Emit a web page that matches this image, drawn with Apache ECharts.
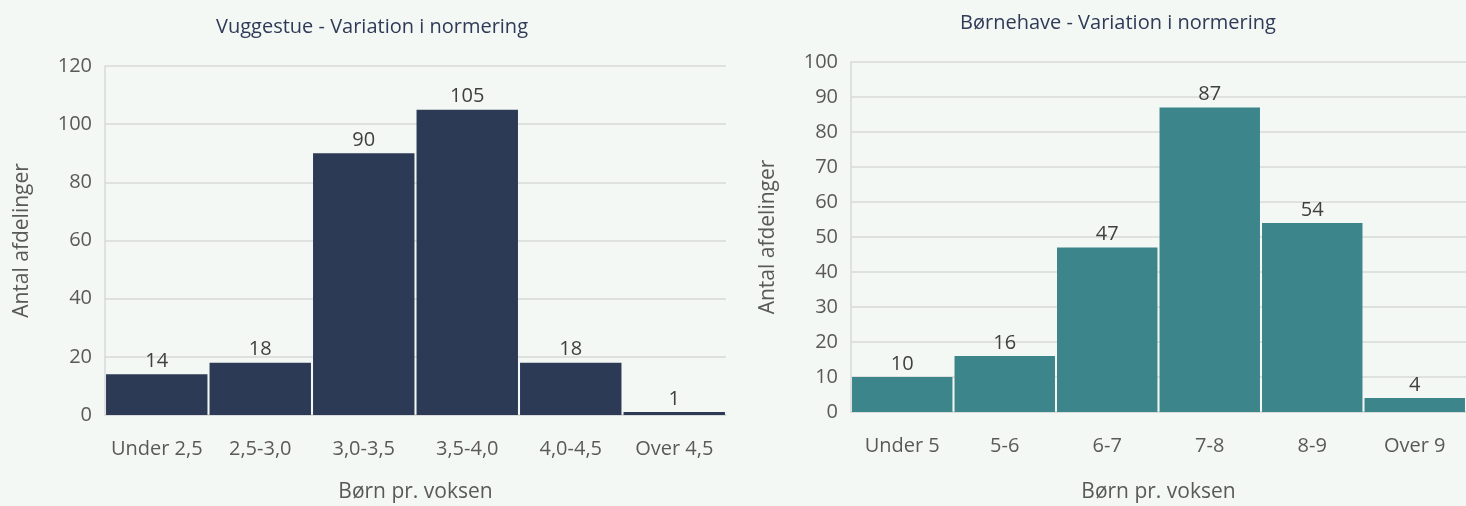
<!DOCTYPE html>
<html>
<head>
<meta charset="utf-8">
<script src="https://cdn.jsdelivr.net/npm/echarts@6/dist/echarts.min.js"></script>
<style>
  html, body { margin: 0; padding: 0; background: #f4f8f5; }
  #chart { width: 1466px; height: 506px; }
</style>
</head>
<body>
<div id="chart"></div>
<script>
// data
const vuggeCategories = ['Under 2,5', '2,5-3,0', '3,0-3,5', '3,5-4,0', '4,0-4,5', 'Over 4,5'];
const vuggeValues = [14, 18, 90, 105, 18, 1];
const boerneCategories = ['Under 5', '5-6', '6-7', '7-8', '8-9', 'Over 9'];
const boerneValues = [10, 16, 47, 87, 54, 4];

const font = '"Open Sans", "Noto Sans", sans-serif';
const grey = '#595959';
const tickStyle = { color: grey, fontSize: 20, fontFamily: font };

const chart = echarts.init(document.getElementById('chart'));

const makeX = (idx, cats, gap) => ({
  type: 'category', gridIndex: idx, data: cats,
  name: 'Børn pr. voksen', nameLocation: 'middle', nameGap: gap,
  nameTextStyle: { color: grey, fontSize: 21, fontFamily: font },
  axisLine: { lineStyle: { color: '#d9d9d9', width: 1.5 } },
  axisTick: { show: false },
  axisLabel: Object.assign({ margin: 24, interval: 0 }, tickStyle)
});

const makeY = (idx, max, step) => ({
  type: 'value', gridIndex: idx, min: 0, max: max, interval: step,
  name: 'Antal afdelinger', nameLocation: 'middle', nameGap: 72,
  nameTextStyle: { color: grey, fontSize: 21, fontFamily: font },
  axisLine: { show: true, lineStyle: { color: '#d9d9d9', width: 1.5 } },
  axisTick: { show: false },
  axisLabel: Object.assign({ margin: 13 }, tickStyle),
  splitLine: { lineStyle: { color: '#d9d9d9', width: 1.5 } }
});

const makeSeries = (idx, values, color) => ({
  type: 'bar', xAxisIndex: idx, yAxisIndex: idx, data: values,
  barCategoryGap: '2%',
  itemStyle: { color: color },
  label: { show: true, position: 'top', distance: 3, color: '#404040', fontSize: 20, fontFamily: font }
});

chart.setOption({
  backgroundColor: '#f4f8f5',
  animation: false,
  title: [
    { text: 'Vuggestue - Variation i normering', left: 367, top: 12, textAlign: 'center',
      textStyle: { color: '#2f3a57', fontSize: 20, fontWeight: 'normal', fontFamily: font } },
    { text: 'Børnehave - Variation i normering', left: 1113, top: 8, textAlign: 'center',
      textStyle: { color: '#2f3a57', fontSize: 20, fontWeight: 'normal', fontFamily: font } }
  ],
  grid: [
    { left: 105, right: 740, top: 66, bottom: 91, outerBoundsMode: 'none' },
    { left: 851, right: 0, top: 62, bottom: 94, outerBoundsMode: 'none' }
  ],
  xAxis: [makeX(0, vuggeCategories, 67), makeX(1, boerneCategories, 70)],
  yAxis: [makeY(0, 120, 20), makeY(1, 100, 10)],
  series: [
    makeSeries(0, vuggeValues, '#2d3a56'),
    makeSeries(1, boerneValues, '#3c858b')
  ]
});
</script>
</body>
</html>
